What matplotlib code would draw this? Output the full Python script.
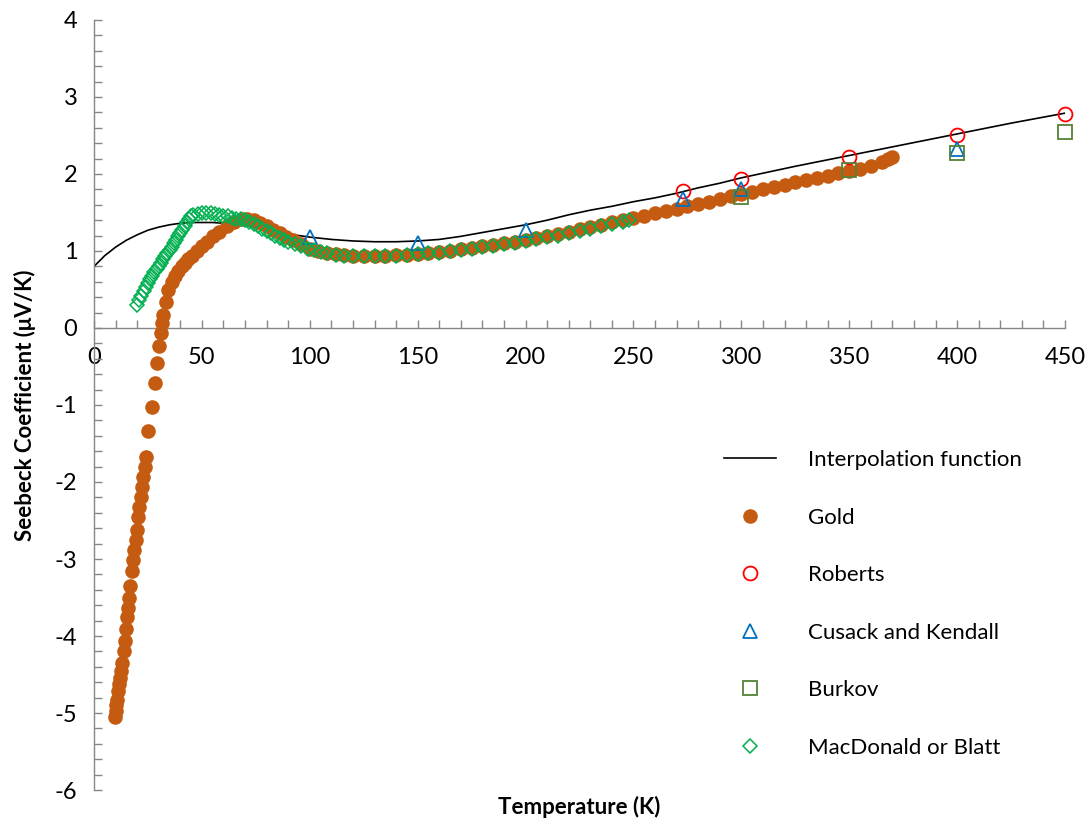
import matplotlib.pyplot as plt
from matplotlib.ticker import MultipleLocator

plt.rcParams['font.family'] = ['Lato', 'DejaVu Sans']
plt.rcParams['axes.unicode_minus'] = False

# Interpolation function (smooth fit through the reference data)
interp_T = [0, 5, 10, 15, 20, 25, 30, 35, 40, 45, 50, 55, 60, 65, 70, 80, 90, 100,
            110, 120, 130, 140, 150, 160, 170, 180, 190, 200, 210, 220, 230, 240,
            250, 260, 270, 280, 290, 300, 325, 350, 375, 400, 425, 450]
interp_S = [0.80, 0.94, 1.05, 1.14, 1.21, 1.27, 1.31, 1.34, 1.36, 1.37, 1.37, 1.37,
            1.36, 1.35, 1.33, 1.28, 1.22, 1.18, 1.15, 1.13, 1.12, 1.12, 1.13, 1.15,
            1.19, 1.24, 1.29, 1.34, 1.40, 1.47, 1.53, 1.58, 1.64, 1.69, 1.75, 1.82,
            1.88, 1.95, 2.10, 2.24, 2.38, 2.52, 2.66, 2.79]

# Gold thermopower
gold_T = [9.7, 10.0, 10.3, 10.5, 11.0, 11.5, 12.0, 12.6, 13.1, 13.9, 14.4, 14.7,
          15.1, 15.6, 16.2, 16.7, 17.5, 18.2, 18.7, 19.5, 19.8, 20.5, 21.0, 21.6,
          22.1, 22.9, 23.6, 24.1, 25.1, 26.7, 28.3, 29.0, 30.3, 30.9, 31.3, 32.1,
          33.4, 34.4, 36.0, 37.5, 39.0, 40.6, 42.0, 43.5, 45.3, 47.5, 50.0, 52.5,
          55.3, 58.0, 61.5, 65.0, 68.4, 71.0, 74.0, 77.0, 80.0, 83.0, 86.0, 89.0,
          92.4, 96.0, 100, 104, 108, 112, 116, 120, 125, 130, 135, 140, 145, 150,
          155, 160, 165, 170, 175, 180, 185, 190, 195, 200, 205, 210, 215, 220,
          225, 230, 235, 240, 245, 250, 255, 260, 265, 270, 275, 280, 285, 290,
          295, 300, 305, 310, 315, 320, 325, 330, 335, 340, 345, 350, 355, 360,
          365, 368, 370]
gold_S = [-5.05, -4.98, -4.90, -4.83, -4.72, -4.62, -4.55, -4.45, -4.35, -4.20,
          -4.07, -3.91, -3.75, -3.64, -3.51, -3.35, -3.16, -3.01, -2.88, -2.75,
          -2.62, -2.45, -2.32, -2.19, -2.06, -1.93, -1.80, -1.67, -1.34, -1.02,
          -0.71, -0.46, -0.24, -0.06, 0.06, 0.17, 0.34, 0.49, 0.60, 0.67, 0.74,
          0.80, 0.85, 0.89, 0.93, 1.00, 1.06, 1.12, 1.19, 1.25, 1.32, 1.37, 1.42,
          1.42, 1.40, 1.36, 1.32, 1.27, 1.23, 1.18, 1.14, 1.09, 1.03, 1.00, 0.97,
          0.96, 0.95, 0.94, 0.94, 0.94, 0.94, 0.95, 0.95, 0.96, 0.97, 0.99, 1.00,
          1.02, 1.04, 1.06, 1.08, 1.10, 1.12, 1.14, 1.17, 1.19, 1.22, 1.25, 1.28,
          1.31, 1.34, 1.37, 1.40, 1.43, 1.46, 1.49, 1.52, 1.55, 1.58, 1.61, 1.64,
          1.67, 1.71, 1.74, 1.77, 1.80, 1.83, 1.86, 1.89, 1.92, 1.95, 1.98, 2.01,
          2.04, 2.07, 2.11, 2.15, 2.19, 2.22]

# Literature values
roberts_T = [273, 300, 350, 400, 450]
roberts_S = [1.78, 1.93, 2.22, 2.50, 2.78]

cusack_T = [100, 150, 200, 273, 300, 400]
cusack_S = [1.18, 1.10, 1.27, 1.68, 1.80, 2.32]

burkov_T = [300, 350, 400, 450]
burkov_S = [1.70, 2.05, 2.27, 2.55]

macd_T = [20, 21, 22, 23, 24, 25, 26, 27, 28, 29, 30, 31, 32, 33, 34, 35, 36, 37,
          38, 39, 40, 41, 42, 43, 44, 45, 46, 48, 50, 52, 54, 56, 58, 60, 62, 64,
          66, 68, 70, 72, 74, 76, 78, 80, 82, 84, 86, 88, 90, 93, 96, 99, 102,
          105, 108, 112, 116, 120, 125, 130, 135, 140, 145, 150, 155, 160, 165,
          170, 175, 180, 185, 190, 195, 200, 205, 210, 215, 220, 225, 230, 235,
          240, 245, 248]
macd_S = [0.30, 0.36, 0.42, 0.48, 0.53, 0.58, 0.63, 0.68, 0.73, 0.77, 0.81, 0.85,
          0.89, 0.93, 0.97, 1.01, 1.05, 1.10, 1.14, 1.19, 1.23, 1.27, 1.32, 1.37,
          1.41, 1.45, 1.47, 1.48, 1.49, 1.49, 1.49, 1.48, 1.47, 1.46, 1.45, 1.43,
          1.42, 1.41, 1.40, 1.38, 1.35, 1.32, 1.29, 1.26, 1.23, 1.20, 1.17, 1.14,
          1.12, 1.09, 1.06, 1.03, 1.01, 0.99, 0.97, 0.95, 0.94, 0.94, 0.93, 0.93,
          0.94, 0.94, 0.95, 0.96, 0.97, 0.98, 1.00, 1.01, 1.03, 1.05, 1.07, 1.09,
          1.11, 1.13, 1.15, 1.18, 1.20, 1.23, 1.26, 1.29, 1.32, 1.35, 1.38, 1.40]

fig = plt.figure(figsize=(10.92, 8.25), dpi=100)
ax = fig.add_axes([0.0861, 0.0424, 0.8892, 0.9334])

ax.plot(interp_T, interp_S, color='black', lw=1.2, label='Interpolation function', zorder=2)
ax.plot(gold_T, gold_S, 'o', color='#C55A11', mec='none', ms=10.5, label='Gold', zorder=3)
ax.plot(roberts_T, roberts_S, 'o', mfc='none', mec='#FF0000', ms=10, mew=1.3,
        label='Roberts', zorder=4, clip_on=False)
ax.plot(cusack_T, cusack_S, '^', mfc='none', mec='#0070C0', ms=10.5, mew=1.3,
        label='Cusack and Kendall', zorder=5, clip_on=False)
ax.plot(burkov_T, burkov_S, 's', mfc='none', mec='#548235', ms=9.5, mew=1.3,
        label='Burkov', zorder=6, clip_on=False)
ax.plot(macd_T, macd_S, 'D', mfc='none', mec='#00B050', ms=7.0, mew=1.1,
        label='MacDonald or Blatt', zorder=7)

ax.set_xlim(0, 450)
ax.set_ylim(-6, 4)

# axis lines: x axis crosses at zero, no box
ax.spines['bottom'].set_position(('data', 0))
ax.spines['top'].set_visible(False)
ax.spines['right'].set_visible(False)
for side in ['left', 'bottom']:
    ax.spines[side].set_color('#868686')
    ax.spines[side].set_linewidth(1.0)

ax.xaxis.set_major_locator(MultipleLocator(50))
ax.xaxis.set_minor_locator(MultipleLocator(10))
ax.yaxis.set_major_locator(MultipleLocator(1))
ax.yaxis.set_minor_locator(MultipleLocator(0.2))
ax.tick_params(which='both', direction='in', length=6, width=1, color='#868686')
ax.tick_params(axis='both', labelsize=17, labelcolor='black')
ax.tick_params(axis='x', pad=14)
ax.tick_params(axis='y', pad=12)

fig.text(579 / 1092, 1 - 807 / 825, 'Temperature (K)', ha='center', va='center',
         fontsize=16, fontweight='bold')
fig.text(25 / 1092, 1 - 405 / 825, 'Seebeck Coefficient (μV/K)', ha='center',
         va='center', rotation=90, fontsize=16, fontweight='bold')

ax.legend(loc='upper left', bbox_to_anchor=(724 / 1092, 1 - 450 / 825),
          bbox_transform=fig.transFigure, frameon=False, fontsize=16,
          handlelength=2.35, handletextpad=1.45, labelspacing=1.69,
          borderpad=0, borderaxespad=0)

fig.savefig('out.png', dpi=100)
